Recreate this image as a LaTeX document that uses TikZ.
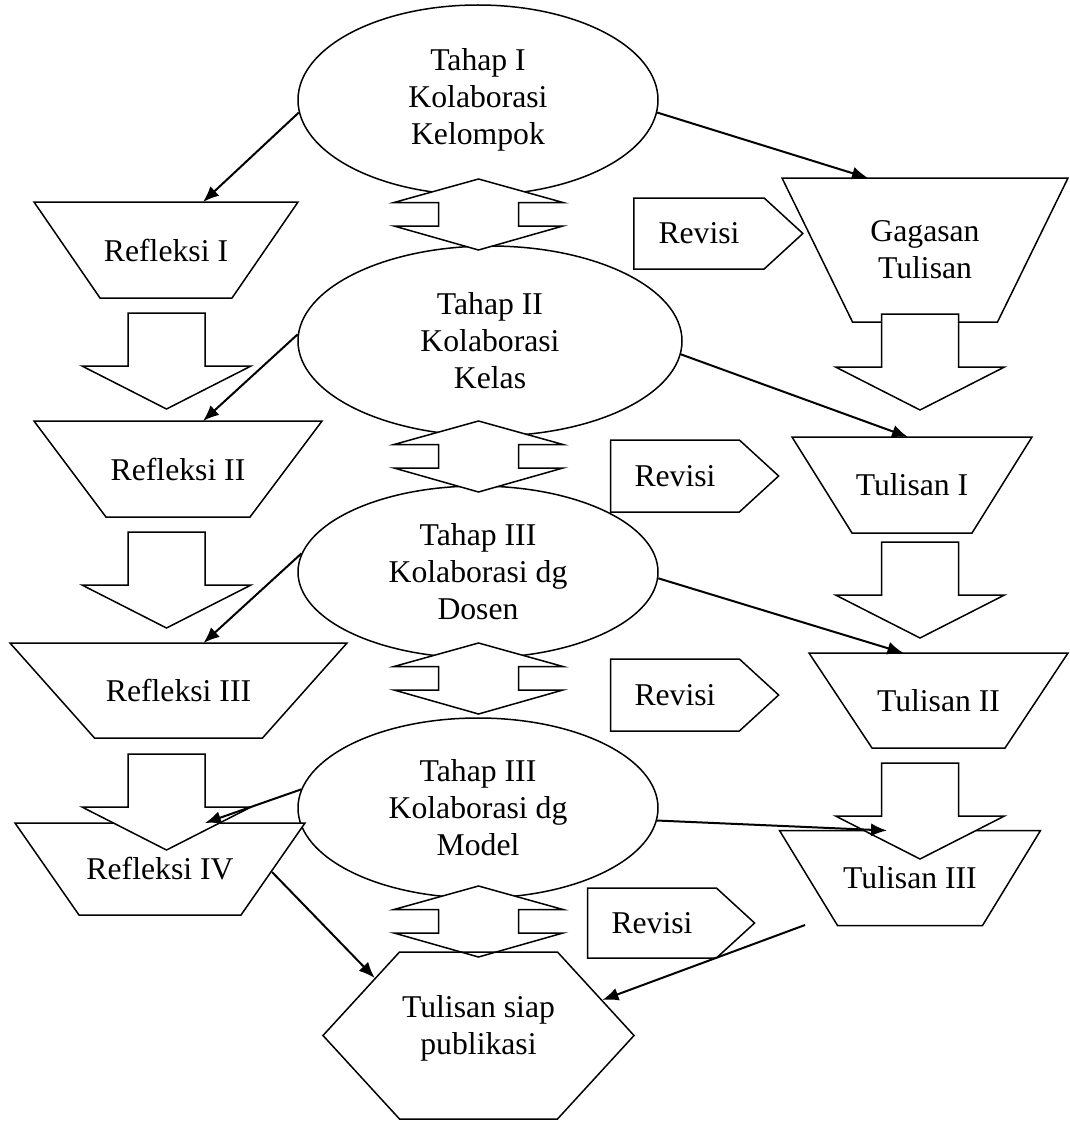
\documentclass[tikz,border=0pt]{standalone}
\usepackage{fontspec}
\setmainfont{Liberation Serif}
\usetikzlibrary{shapes.geometric, shapes.symbols, arrows.meta}

% block arrows, given by their top point
\newcommand{\udblock}[1]{\draw[block] (#1) -- ++(84.5,23.5) -- ++(-44.5,0) -- ++(0,23.5) -- ++(44.5,0) -- ++(-84.5,24) -- ++(-84.5,-24) -- ++(44.5,0) -- ++(0,-23.5) -- ++(-44.5,0) -- cycle;}
\newcommand{\dnblock}[1]{\draw[block] (#1) ++(-38.5,0) -- ++(77,0) -- ++(0,53) -- ++(46,0) -- ++(-84.5,43) -- ++(-84.5,-43) -- ++(46,0) -- cycle;}
% trapezoid: centre, top width, bottom width, height, name, text
\newcommand{\trapbox}[6]{%
  \draw[block] (#1) ++({-#2/2},{-#4/2}) -- ++(#2,0) -- ++({-(#2-#3)/2},#4) -- ++(-#3,0) -- cycle;
  \node (#5) at (#1) {#6};
  \coordinate (#5-top) at ([shift={(0,{-#4/2})}]#5.center);}

\begin{document}
\begin{tikzpicture}[x=1pt, y=-1pt,
  every node/.style={font=\fontsize{31.7}{37}\selectfont, align=center, inner sep=0pt},
  tahap/.style={draw, line width=1.5pt, ellipse, fill=white},
  revisi/.style={draw, line width=1.5pt, signal, signal to=east, signal pointer angle=85, fill=white},
  block/.style={draw, line width=1.5pt, fill=white},
  link/.style={line width=2pt, -{Latex[length=16pt, width=13pt]}}]
\useasboundingbox (0,0) rectangle (1069,1121);

% the four stages
\node[tahap, minimum width=360, minimum height=190] (tahap1) at (478,100) {Tahap I\\Kolaborasi\\Kelompok};
\node[tahap, minimum width=384, minimum height=190] (tahap2) at ([shift={(12,241)}]tahap1) {Tahap II\\Kolaborasi\\Kelas};
\node[tahap, minimum width=360, minimum height=172] (tahap3) at ([shift={(-12,231)}]tahap2) {Tahap III\\Kolaborasi dg\\Dosen};
\node[tahap, minimum width=360, minimum height=180] (tahap4) at ([shift={(0,236)}]tahap3) {Tahap III\\Kolaborasi dg\\Model};

% left column
\trapbox{[shift={(-312,150)}]tahap1}{264}{132}{96}{refl1}{Refleksi I}
\trapbox{[shift={(-312,128)}]tahap2}{288}{144}{96}{refl2}{Refleksi II}
\trapbox{[shift={(-299.5,118.5)}]tahap3}{337}{168}{95}{refl3}{Refleksi III}
\trapbox{[shift={(-318,61)}]tahap4}{290}{162}{92}{refl4}{Refleksi IV}

% right column
\trapbox{[shift={(447,150)}]tahap1}{286}{145}{144}{gag}{Gagasan\\Tulisan}
\trapbox{[shift={(422,144)}]tahap2}{240}{120}{96}{tul1}{Tulisan I}
\trapbox{[shift={(460.5,128.5)}]tahap3}{259}{133}{95}{tul2}{Tulisan II}
\trapbox{[shift={(432,70)}]tahap4}{261}{145}{95}{tul3}{Tulisan III}

% revisi
\node[revisi, minimum width=169, minimum height=71] (rev1) at ([shift={(221,133.5)}]tahap1) {Revisi};
\node[revisi, minimum width=168, minimum height=72] (rev2) at ([shift={(185,135)}]tahap2) {Revisi};
\node[revisi, minimum width=168, minimum height=72] (rev3) at ([shift={(197,123)}]tahap3) {Revisi};
\node[revisi, minimum width=167, minimum height=70] (rev4) at ([shift={(174,115)}]tahap4) {Revisi};

\udblock{478.5,179}
\udblock{478.5,421}
\udblock{478.5,643}
\udblock{478.5,886}

\dnblock{166.5,313}
\dnblock{166.5,532}
\dnblock{166.5,754}
\dnblock{920,314}
\dnblock{920,542}
\dnblock{920,763}

\node[draw, line width=1.5pt, signal, signal to=west and east, signal pointer angle=95, minimum width=311, minimum height=167] (hex) at ([shift={(0.5,227.5)}]tahap4) {Tulisan siap\\publikasi\rule[-21pt]{0pt}{0pt}};

\draw[link] (tahap1.184) -- ([shift={(37,0)}]refl1-top);
\draw[link] (tahap1.356) -- ([shift={(-57,0)}]gag-top);
\draw[link] (tahap2.178) -- ([shift={(25,0)}]refl2-top);
\draw[link] (tahap2.356) -- ([shift={(-4,0)}]tul1-top);
\draw[link] (tahap3.174) -- ([shift={(25,0)}]refl3-top);
\draw[link] (tahap3.358) -- ([shift={(-35,0)}]tul2-top);
\draw[link] (tahap4.174) -- ([shift={(45,0)}]refl4-top);
\draw[link] (tahap4.356) -- ([shift={(-23,0)}]tul3-top);
\draw[link] ([shift={(112,3)}]refl4.center) -- (hex.151);
\draw[link] ([shift={(-105,47)}]tul3.center) -- (hex.16);
\end{tikzpicture}
\end{document}
